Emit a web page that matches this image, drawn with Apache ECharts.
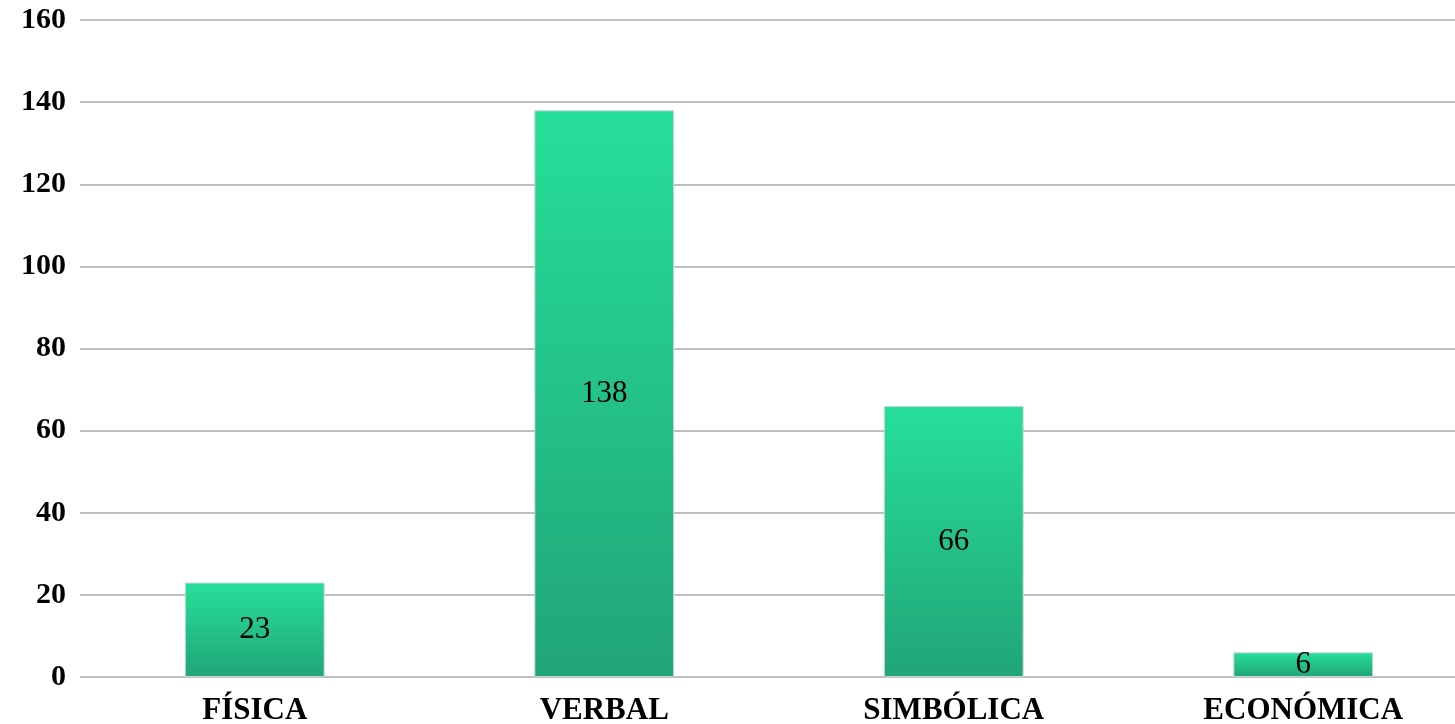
<!DOCTYPE html>
<html><head><meta charset="utf-8">
<script src="https://cdn.jsdelivr.net/npm/echarts@6/dist/echarts.min.js"></script>
<style>html,body{margin:0;padding:0;background:#fff}#c{width:1455px;height:724px}</style>
</head><body><div id="c"></div>
<script>
const categories = ['FÍSICA', 'VERBAL', 'SIMBÓLICA', 'ECONÓMICA'];
const values = [23, 138, 66, 6];
const yTicks = {min: 0, max: 160, interval: 20};

const chart = echarts.init(document.getElementById('c'));
chart.setOption({
  animation: false,
  grid: {left: 80, right: -23, top: 20, bottom: 47, containLabel: false, outerBoundsMode: 'none'},
  xAxis: {
    type: 'category', data: categories,
    axisLine: {show: false}, axisTick: {show: false},
    axisLabel: {margin: 18, color: '#000', fontFamily: 'Liberation Serif', fontWeight: 'bold', fontSize: 31}
  },
  yAxis: {
    type: 'value', min: yTicks.min, max: yTicks.max, interval: yTicks.interval,
    axisLine: {show: false}, axisTick: {show: false},
    axisLabel: {margin: 14, color: '#000', fontFamily: 'Liberation Serif', fontWeight: 'bold', fontSize: 30},
    splitLine: {lineStyle: {color: '#BFBFBF', width: 2}}
  },
  series: [{
    type: 'bar', data: values, barWidth: '40%',
    itemStyle: {
      color: new echarts.graphic.LinearGradient(0, 0, 0, 1, [
        {offset: 0, color: '#26DF9A'}, {offset: 1, color: '#21A577'}
      ]),
      borderColor: '#C8D8D0', borderWidth: 1
    },
    label: {show: true, position: 'inside', color: '#000', fontFamily: 'Liberation Serif', fontSize: 31}
  }]
});
</script></body></html>
